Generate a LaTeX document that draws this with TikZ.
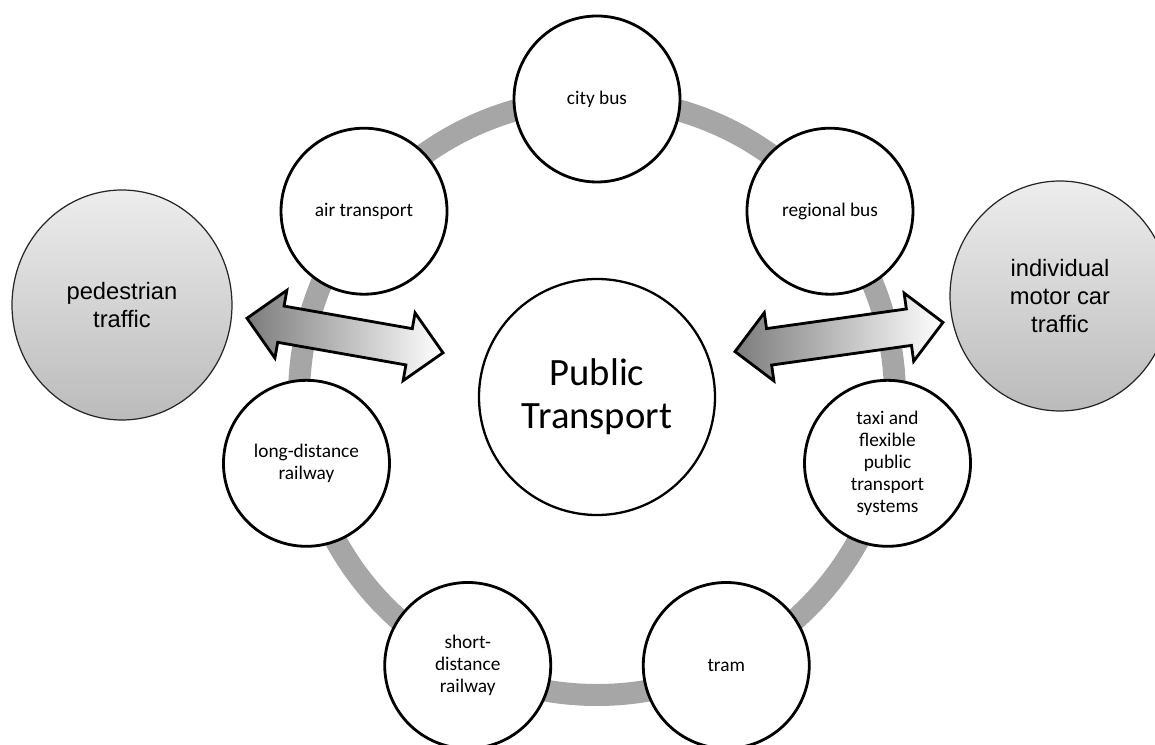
\documentclass[tikz,border=0pt]{standalone}
\usepackage{fontspec}
\setmainfont{Carlito}
\newfontfamily\arialfont{Liberation Sans}
\usepackage{tikz}
\usetikzlibrary{calc, shapes.geometric, shapes.arrows, backgrounds}
\definecolor{sring}{HTML}{A6A6A6}
\definecolor{sgtop}{HTML}{EDEDED}
\definecolor{sgbot}{HTML}{BBBBBB}
\definecolor{sarrow}{HTML}{7C7C7C}

\begin{document}
\begin{tikzpicture}[
    MOD/.style={circle, draw=black, fill=white, line width=1.6pt, minimum size=3.32cm, inner sep=0pt, font=\fontsize{11}{12.5}\selectfont},
    PTR/.style={circle, draw=black, fill=white, line width=1.3pt, minimum size=4.72cm, inner sep=0pt, font=\fontsize{22}{24.5}\selectfont},
    SID/.style={ellipse, draw=black!85, line width=0.7pt, top color=sgtop, bottom color=sgbot, minimum width=4.4cm, minimum height=4.6cm, inner sep=0pt, font=\arialfont\fontsize{13.5}{16}\selectfont},
    DAR/.style={double arrow, draw=black, line width=1.6pt, left color=sarrow, right color=white, inner xsep=0pt, inner ysep=0.34cm, double arrow head extend=0.32cm}
    ]
        \useasboundingbox (-11.94,-6.96) rectangle (11.16,7.94);
        \node[PTR] (PT) at (0,0) {\parbox{3.6cm}{\centering Public\\Transport}};
        % ring of transport modes
        \node[MOD] (M1) at ($(PT)+(90:5.96)$) {\parbox{2.3cm}{\centering city bus}};
        \node[MOD] (M2) at ($(PT)+(38.57:5.96)$) {\parbox{2.3cm}{\centering regional bus}};
        \node[MOD] (M3) at ($(PT)+(347.14:5.96)$) {\parbox{2.3cm}{\centering taxi and\\flexible\\public\\transport\\systems}};
        \node[MOD] (M4) at ($(PT)+(295.71:5.96)$) {\parbox{2.3cm}{\centering tram}};
        \node[MOD] (M5) at ($(PT)+(244.29:5.96)$) {\parbox{2.3cm}{\centering short-\\distance\\railway}};
        \node[MOD] (M6) at ($(PT)+(192.86:5.96)$) {\parbox{2.3cm}{\centering long-distance\\railway}};
        \node[MOD] (M7) at ($(PT)+(141.43:5.96)$) {\parbox{2.3cm}{\centering air transport}};
        \begin{scope}[on background layer]
            \draw[sring, line width=0.44cm] (PT.center) circle (5.96);
        \end{scope}
        % other traffic
        \node[SID] (S1) at (-9.5,1.84) {\parbox{2.6cm}{\centering pedestrian\\traffic}};
        \node[SID] (S2) at (9.26,2.02) {\parbox{2.6cm}{\centering individual\\motor car\\traffic}};
        \node[DAR, minimum height=3.98cm, rotate=-10] (A1) at (-5.04,1.23) {};
        \node[DAR, minimum height=4.2cm, rotate=8] (A2) at (4.84,1.2) {};
    \end{tikzpicture}
\end{document}
